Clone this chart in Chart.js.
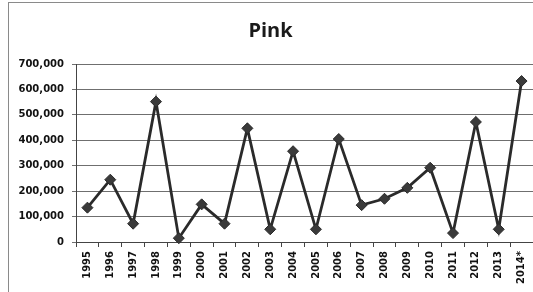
<!DOCTYPE html>
<html>
<head>
<meta charset="utf-8">
<script src="https://cdn.jsdelivr.net/npm/chart.js@4/dist/chart.umd.min.js"></script>
<style>
html,body{margin:0;padding:0;background:#fff;}
#wrap{width:533px;height:292px;}
</style>
</head>
<body>
<div id="wrap"><canvas id="c" width="533" height="292"></canvas></div>
<script>
const years = ["1995","1996","1997","1998","1999","2000","2001","2002","2003","2004","2005","2006","2007","2008","2009","2010","2011","2012","2013","2014*"];
const pinkValues = [135000,245000,72000,552000,15000,148000,72000,447000,50000,357000,50000,405000,145000,170000,213000,292000,35000,472000,50000,633000];
const yTicks = [0,100000,200000,300000,400000,500000,600000,700000];
const chartTitle = "Pink";

const borderPlugin = {
  id: 'outerBorder',
  beforeDraw(chart) {
    const ctx = chart.ctx;
    ctx.save();
    ctx.fillStyle = '#ffffff';
    ctx.fillRect(0, 0, chart.width, chart.height);
    ctx.strokeStyle = '#8a8a8a';
    ctx.lineWidth = 1;
    ctx.strokeRect(8.5, 2.5, 700, 400);
    ctx.restore();
  }
};

new Chart(document.getElementById('c'), {
  type: 'line',
  data: {
    labels: years,
    datasets: [{
      label: chartTitle,
      data: pinkValues,
      borderColor: '#2a2a2a',
      borderWidth: 2.8,
      backgroundColor: '#3a3a3a',
      pointStyle: 'rectRot',
      pointRadius: 5.5,
      pointBackgroundColor: '#3a3a3a',
      pointBorderColor: '#2a2a2a',
      pointBorderWidth: 1,
      tension: 0,
      fill: false,
      clip: false
    }]
  },
  options: {
    responsive: false,
    animation: false,
    devicePixelRatio: 1,
    layout: { autoPadding: false, padding: { left: 8, right: 0, top: 0, bottom: 0 } },
    plugins: {
      legend: { display: false },
      tooltip: { enabled: false },
      title: {
        display: true,
        text: chartTitle,
        color: '#1a1a1a',
        font: { family: 'Open Sans', size: 20, weight: 'bold' },
        padding: { top: 19, bottom: 21 }
      }
    },
    scales: {
      x: {
        offset: true,
        grid: { display: true, offset: true, drawOnChartArea: false, drawTicks: true, tickLength: 5, color: '#444', lineWidth: 1 },
        border: { display: true, color: '#444', width: 1 },
        ticks: {
          autoSkip: false, minRotation: 90, maxRotation: 90, padding: 4,
          color: '#111',
          font: { family: 'DejaVu Sans', size: 10, weight: 'bold' }
        },
        afterFit(s) { s.height = 50; s.paddingRight = 0; s.paddingLeft = 0; }
      },
      y: {
        min: 0, max: 700000,
        afterBuildTicks(s) { s.ticks = yTicks.map(v => ({ value: v })); },
        grid: { color: '#6f6f6f', lineWidth: 1, drawTicks: true, tickLength: 4 },
        border: { display: true, color: '#444', width: 1 },
        ticks: {
          padding: 8,
          color: '#111',
          font: { family: 'DejaVu Sans', size: 10, weight: 'bold' },
          callback: v => v.toLocaleString('en-US')
        },
        afterFit(s) { s.width = 68; }
      }
    }
  },
  plugins: [borderPlugin]
});
</script>
</body>
</html>
